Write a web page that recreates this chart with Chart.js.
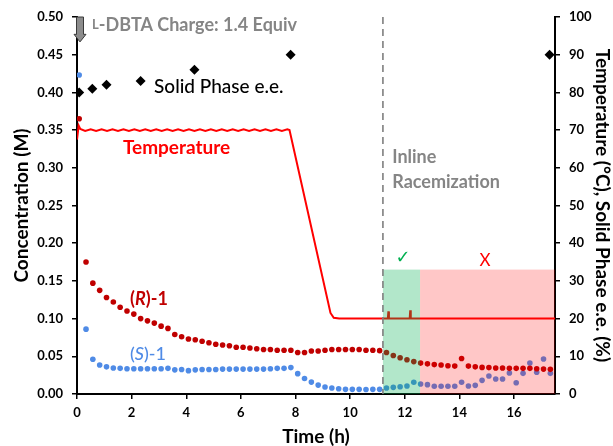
<!DOCTYPE html>
<html>
<head>
<meta charset="utf-8">
<script src="https://cdn.jsdelivr.net/npm/chart.js@4.4.1/dist/chart.umd.min.js"></script>
<style>
  html, body { margin: 0; padding: 0; background: #fff; }
</style>
</head>
<body>
<canvas id="chart" width="613" height="446"></canvas>
<script>
// ================= DATA =================

const sampleTimes = [0.08, 0.33, 0.58, 0.83, 1.08, 1.33, 1.58, 1.83, 2.08, 2.33,
  2.58, 2.83, 3.08, 3.33, 3.58, 3.83, 4.08, 4.33, 4.58, 4.83,
  5.08, 5.33, 5.58, 5.83, 6.08, 6.33, 6.58, 6.83, 7.08, 7.33,
  7.58, 7.83, 8.08, 8.33, 8.58, 8.83, 9.08, 9.33, 9.58, 9.83,
  10.08, 10.33, 10.58, 10.83, 11.08, 11.33, 11.58, 11.83, 12.08, 12.33,
  12.58, 12.83, 13.08, 13.33, 13.58, 13.83, 14.08, 14.33, 14.58, 14.83,
  15.08, 15.33, 15.58, 15.83, 16.08, 16.33, 16.58, 16.83, 17.08, 17.33];

const rConc = [0.365, 0.175, 0.147, 0.1375, 0.128, 0.122, 0.115, 0.110, 0.106, 0.100,
  0.097, 0.094, 0.090, 0.087, 0.079, 0.076, 0.073, 0.072, 0.070, 0.068,
  0.066, 0.065, 0.064, 0.062, 0.062, 0.061, 0.060, 0.059, 0.059, 0.058,
  0.058, 0.058, 0.055, 0.055, 0.057, 0.057, 0.058, 0.059, 0.059, 0.059,
  0.059, 0.059, 0.058, 0.058, 0.0575, 0.055, 0.051, 0.048, 0.0455, 0.043,
  0.041, 0.040, 0.039, 0.0385, 0.0375, 0.037, 0.047, 0.037, 0.036, 0.0353,
  0.035, 0.0345, 0.0345, 0.034, 0.034, 0.034, 0.034, 0.0335, 0.033, 0.0327];

const sConc = [0.423, 0.086, 0.046, 0.0385, 0.036, 0.0345, 0.034, 0.0335, 0.0335, 0.0335,
  0.0335, 0.0335, 0.0335, 0.034, 0.032, 0.0325, 0.031, 0.032, 0.0325, 0.0325,
  0.0325, 0.033, 0.033, 0.033, 0.033, 0.033, 0.033, 0.033, 0.0335, 0.034,
  0.034, 0.035, 0.027, 0.0205, 0.0158, 0.0118, 0.0093, 0.008, 0.007, 0.0062,
  0.0062, 0.0062, 0.006, 0.0062, 0.0062, 0.008, 0.0088, 0.0097, 0.0106, 0.0155,
  0.0133, 0.0124, 0.0102, 0.0102, 0.0102, 0.0102, 0.0155, 0.0106, 0.0115, 0.0181,
  0.0239, 0.0199, 0.0199, 0.0279, 0.015, 0.0274, 0.0411, 0.0288, 0.0464, 0.0274];

const solidTimes = [0.08, 0.56, 1.08, 2.33, 4.3, 7.82, 17.3];
const solidEE = [80, 81, 82, 83, 86, 90, 90];

const tempTimes = [0, 0.06, 0.12, 0.3, 0.5, 0.7, 0.9, 1.1, 1.3, 1.5,
  1.7, 1.9, 2.1, 2.3, 2.5, 2.7, 2.9, 3.1, 3.3, 3.5,
  3.7, 3.9, 4.1, 4.3, 4.5, 4.7, 4.9, 5.1, 5.3, 5.5,
  5.7, 5.9, 6.1, 6.3, 6.5, 6.7, 6.9, 7.1, 7.3, 7.5,
  7.7, 7.78, 9.28, 9.4, 9.6, 11.38, 11.4, 11.42, 12.18, 12.2,
  12.22, 17.5];
const tempValues = [67.5, 71.2, 70.3, 69.8, 70.2, 69.8, 70.2, 69.8, 70.2, 69.8,
  70.2, 69.8, 70.2, 69.8, 70.2, 69.8, 70.2, 69.8, 70.2, 69.8,
  70.2, 69.8, 70.2, 69.8, 70.2, 69.8, 70.2, 69.8, 70.2, 69.8,
  70.2, 69.8, 70.2, 69.8, 70.2, 69.8, 70.2, 69.8, 70.2, 69.8,
  70.2, 70.0, 21.5, 20.2, 20.0, 20.0, 21.9, 20.0, 20.0, 22.2,
  20.0, 20.0];

const xTicks = [0, 2, 4, 6, 8, 10, 12, 14, 16];
const concTicks = [0, 0.05, 0.10, 0.15, 0.20, 0.25, 0.30, 0.35, 0.40, 0.45, 0.50];
const pctTicks = [0, 10, 20, 30, 40, 50, 60, 70, 80, 90, 100];

// phases (h) and shaded height (% on right axis)
const racemizationStart = 11.2;
const goodEnd = 12.56;
const runEnd = 17.5;
const shadeTop = 33;

// ================= COLOURS / FONTS =================

const RED_DARK = "#c00000";
const BLUE = "#4f8be6";
const GREY = "#858585";
const FONT = "Lato";

// text labels placed in data units (x: h, y: M)
const labels = [
  { text: "Solid Phase e.e.", x: 2.82, y: 0.407, color: "#000", font: "500 19px " + FONT, align: "left" },
  { text: "Temperature", x: 1.68, y: 0.326, color: "#ff0000", font: "bold 19px " + FONT, align: "left" },
  { text: "Inline", x: 11.54, y: 0.314, color: GREY, font: "bold 18px " + FONT, align: "left" },
  { text: "Racemization", x: 11.54, y: 0.281, color: GREY, font: "bold 18px " + FONT, align: "left" },
  { text: "\u2713", x: 11.94, y: 0.180, color: "#00b050", font: "18px DejaVu Sans", align: "center" },
  { text: "X", x: 14.94, y: 0.177, color: "#ff0000", font: "17px " + FONT, align: "center" }
];

// ================= PLUGINS =================

function drawParts(ctx, parts, x, y, color) {
  // parts: [{t, font}] drawn one after the other
  ctx.fillStyle = color;
  ctx.textBaseline = "middle";
  ctx.textAlign = "left";
  let cx = x;
  parts.forEach(p => {
    ctx.font = p.font;
    ctx.fillText(p.t, cx, y);
    cx += ctx.measureText(p.t).width;
  });
}

const overlays = {
  id: "overlays",
  afterDatasetsDraw(chart) {
    const { ctx, chartArea, scales: { x, y, y2 } } = chart;
    ctx.save();

    // shaded phases
    const top = y2.getPixelForValue(shadeTop);
    const bottom = y2.getPixelForValue(0);
    const xs = x.getPixelForValue(racemizationStart);
    const xg = x.getPixelForValue(goodEnd);
    const xe = x.getPixelForValue(runEnd);
    ctx.globalAlpha = 0.3;
    ctx.fillStyle = "#00b050";
    ctx.fillRect(xs, top, xg - xs, bottom - top);
    ctx.globalAlpha = 0.22;
    ctx.fillStyle = "#ff0000";
    ctx.fillRect(xg, top, xe - xg, bottom - top);
    ctx.globalAlpha = 1;

    // dashed start of inline racemization
    ctx.strokeStyle = "#7f7f7f";
    ctx.lineWidth = 1.6;
    ctx.setLineDash([7, 5]);
    ctx.beginPath();
    ctx.moveTo(xs, chartArea.top);
    ctx.lineTo(xs, chartArea.bottom);
    ctx.stroke();
    ctx.setLineDash([]);

    // text labels
    labels.forEach(l => {
      ctx.font = l.font;
      ctx.fillStyle = l.color;
      ctx.textAlign = l.align;
      ctx.textBaseline = "middle";
      ctx.fillText(l.text, x.getPixelForValue(l.x), y.getPixelForValue(l.y));
    });

    drawParts(ctx, [
      { t: "(", font: "bold 18px " + FONT },
      { t: "R", font: "italic bold 18px " + FONT },
      { t: ")-1", font: "bold 18px " + FONT }
    ], x.getPixelForValue(1.94), y.getPixelForValue(0.126), RED_DARK);

    drawParts(ctx, [
      { t: "(", font: "500 18px " + FONT },
      { t: "S", font: "italic 500 18px " + FONT },
      { t: ")-1", font: "500 18px " + FONT }
    ], x.getPixelForValue(1.94), y.getPixelForValue(0.053), BLUE);

    drawParts(ctx, [
      { t: "L", font: "bold 13px " + FONT },
      { t: "-DBTA Charge: 1.4 Equiv", font: "bold 18px " + FONT }
    ], x.getPixelForValue(0.55), y.getPixelForValue(0.489), GREY);

    // charge arrow at t = 0
    const ax = x.getPixelForValue(0.11);
    const a0 = y.getPixelForValue(0.5);
    const aHead = y.getPixelForValue(0.477);
    const aTip = y.getPixelForValue(0.467);
    ctx.beginPath();
    ctx.moveTo(ax - 3.5, a0);
    ctx.lineTo(ax + 3.5, a0);
    ctx.lineTo(ax + 3.5, aHead);
    ctx.lineTo(ax + 6, aHead);
    ctx.lineTo(ax, aTip);
    ctx.lineTo(ax - 6, aHead);
    ctx.lineTo(ax - 3.5, aHead);
    ctx.closePath();
    ctx.fillStyle = "#8c8c8c";
    ctx.fill();
    ctx.strokeStyle = "#3a3a3a";
    ctx.lineWidth = 1;
    ctx.stroke();

    ctx.restore();
  }
};

// ================= CHART =================

function pts(xs, ys) {
  return xs.map((v, i) => ({ x: v, y: ys[i] }));
}

function setTicks(list) {
  return scale => { scale.ticks = list.map(v => ({ value: v })); };
}

const tickFont = { family: FONT, size: 13, weight: "bold" };
const titleFont = { family: FONT, size: 19, weight: "bold", lineHeight: 1 };
const axisGrid = { display: true, drawOnChartArea: false, drawTicks: true, tickLength: 5, color: "#000", lineWidth: 1.5 };
const axisBorder = { display: true, color: "#000", width: 2 };

new Chart(document.getElementById("chart"), {
  type: "scatter",
  data: {
    datasets: [
      {
        label: "Temperature",
        type: "line",
        data: pts(tempTimes, tempValues),
        yAxisID: "y2",
        borderColor: "#ff0000",
        borderWidth: 2,
        borderJoinStyle: "miter",
        pointRadius: 0,
        tension: 0,
        fill: false
      },
      {
        label: "(R)-1",
        data: pts(sampleTimes, rConc),
        yAxisID: "y",
        backgroundColor: RED_DARK,
        borderWidth: 0,
        pointRadius: 2.8
      },
      {
        label: "(S)-1",
        data: pts(sampleTimes, sConc),
        yAxisID: "y",
        backgroundColor: BLUE,
        borderWidth: 0,
        pointRadius: 2.8
      },
      {
        label: "Solid Phase e.e.",
        data: pts(solidTimes, solidEE),
        yAxisID: "y2",
        backgroundColor: "#000",
        borderWidth: 0,
        pointStyle: "rectRot",
        pointRadius: 5
      }
    ]
  },
  options: {
    responsive: false,
    animation: false,
    layout: { padding: { top: 17, left: 0, right: 0, bottom: 0 } },
    plugins: {
      legend: { display: false },
      tooltip: { enabled: false }
    },
    scales: {
      x: {
        type: "linear",
        position: "bottom",
        min: 0,
        max: 17.5,
        afterBuildTicks: setTicks(xTicks),
        afterFit: s => { s.height = 52; },
        grid: axisGrid,
        border: axisBorder,
        ticks: { font: tickFont, color: "#000", padding: 6, maxRotation: 0 },
        title: { display: true, text: "Time (h)", font: titleFont, color: "#000", padding: { top: 0, bottom: 0 } }
      },
      y: {
        type: "linear",
        position: "left",
        min: 0,
        max: 0.5,
        afterBuildTicks: setTicks(concTicks),
        afterFit: s => { s.width = 77; },
        grid: axisGrid,
        border: axisBorder,
        ticks: { font: tickFont, color: "#000", padding: 9, callback: v => v.toFixed(2) },
        title: { display: true, text: "Concentration (M)", font: titleFont, color: "#000", padding: { top: 12.5, bottom: 0 } }
      },
      y2: {
        type: "linear",
        position: "right",
        min: 0,
        max: 100,
        afterBuildTicks: setTicks(pctTicks),
        afterFit: s => { s.width = 58; },
        grid: axisGrid,
        border: axisBorder,
        ticks: { font: tickFont, color: "#000", padding: 9 },
        title: { display: true, text: "Temperature (\u00b0C), Solid Phase e.e. (%)", font: titleFont, color: "#000", padding: { top: 1.5, bottom: 0 } }
      }
    }
  },
  plugins: [overlays]
});
</script>
</body>
</html>
